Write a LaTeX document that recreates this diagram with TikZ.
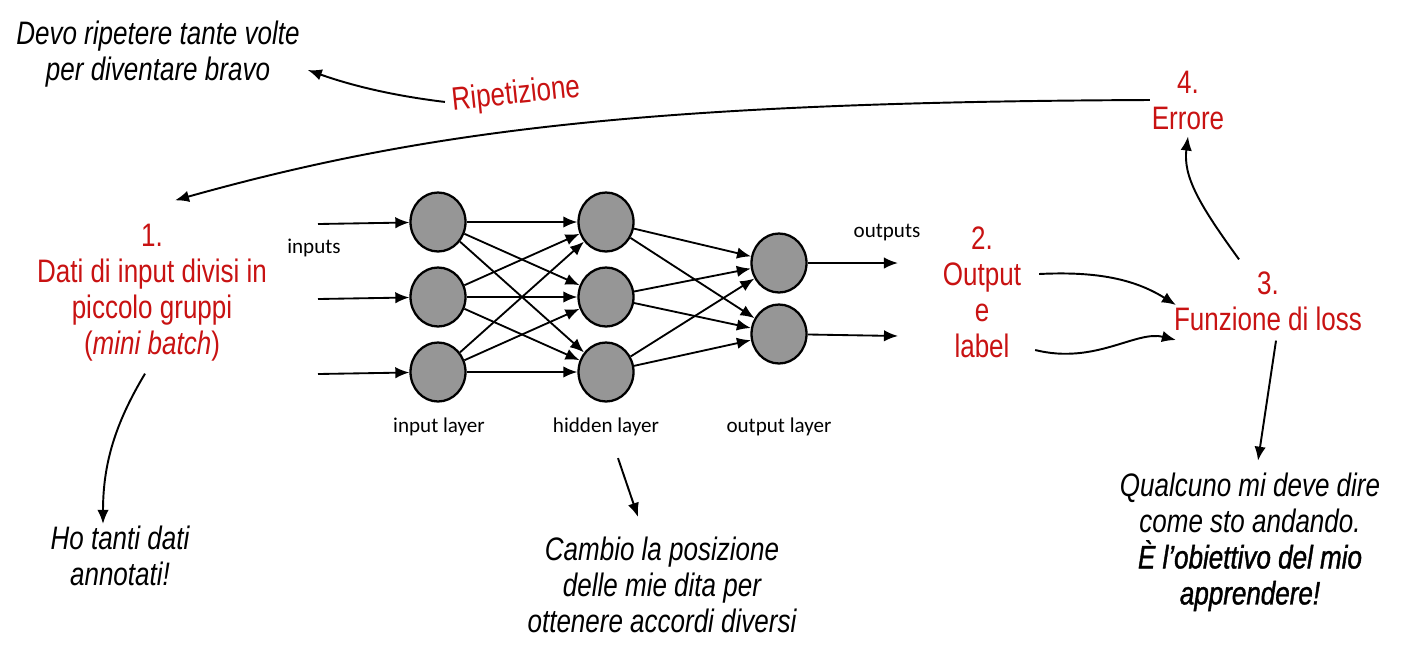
\documentclass[tikz,border=0pt]{standalone}
\usepackage{fontspec}
\setmainfont{Liberation Sans}[FakeStretch=0.8]
\newfontfamily\netfont{Carlito}
\newfontfamily\strongfont{Liberation Sans}[FakeStretch=0.8,FakeBold=1.2]
\usetikzlibrary{arrows.meta,shapes.geometric}
\definecolor{stepred}{RGB}{200,18,18}
\definecolor{cellgray}{RGB}{150,150,150}

\begin{document}
\begin{tikzpicture}[x=0.02cm,y=-0.02cm,
	neuron/.style={ellipse,draw,line width=1.3pt,fill=cellgray,minimum width=1.1cm,minimum height=1.18cm,inner sep=0pt},
	link/.style={line width=1.05pt,-{Latex[length=8pt,width=6.5pt]}},
	arr/.style={line width=1.1pt,-{Latex[length=8pt,width=6.5pt]}},
	stepnote/.style={text=stepred,align=center,inner sep=1pt,font=\fontsize{18.5}{20.5}\selectfont},
	note/.style={align=center,inner sep=1pt,font=\fontsize{18.5}{20.5}\selectfont\itshape},
	netlabel/.style={inner sep=1pt,font=\netfont\fontsize{12}{14}\selectfont}]
\useasboundingbox (0,0) rectangle (1422,647);
%
	\foreach \n/\y in {1/222,2/297,3/372} {
		\node[neuron] (i\n) at (438,\y) {};
		\node[neuron] (h\n) at (606,\y) {};
		\coordinate (x\n) at (318,\y+2);
		\draw[link] (x\n) -- (i\n);
	}
	\node[neuron] (o1) at (779,263) {};
	\node[neuron] (o2) at (779,334) {};
	\coordinate (y1) at (898,263);
	\coordinate (y2) at (898,336);
	\foreach \a in {1,2,3} {
		\foreach \b in {1,2,3} \draw[link] (i\a) -- (h\b);
		\foreach \b in {1,2} \draw[link] (h\a) -- (o\b);
	}
	\draw[link] (o1) -- (y1);
	\draw[link] (o2) -- (y2);
%
	\node[netlabel] at (314,248) {inputs};
	\node[netlabel] at (887,233) {outputs};
	\node[netlabel] (ilab) at (439,427) {input layer};
	\node[netlabel] (hlab) at (606,427) {hidden layer};
	\node[netlabel] (olab) at (779,427) {output layer};
%
	\node[stepnote] (dati) at (152,293) {1.\\Dati di input divisi in\\piccolo gruppi\\(\textit{mini batch})};
	\node[stepnote] (outlab) at (982,292) {2.\\Output\\e\\label};
	\node[stepnote] (loss) at (1268,301) {3.\\Funzione di loss};
	\node[stepnote] (err) at (1188,100) {4.\\Errore};
	\node[stepnote,rotate=6] (rip) at (516,95) {Ripetizione};
%
	\node[note] (devo) at (158,54) {Devo ripetere tante volte\\per diventare bravo};
	\node[note] (dati2) at (120,556) {Ho tanti dati\\annotati!};
	\node[note] (cambio) at (662,585) {Cambio la posizione\\delle mie dita per\\ottenere accordi diversi};
	\node[note] (qual) at (1250,542) {Qualcuno mi deve dire\\come sto andando.\\{\strongfont\itshape È l’obiettivo del mio}\\{\strongfont\itshape apprendere!}};
%
	\draw[arr] ([xshift=-0.1cm]rip.west) .. controls +(-50,-6) and +(45,16) .. ([shift={(6,16)}]devo.east);
	\draw[arr] (err.west) .. controls +(-500,2) and +(250,-70) .. ([shift={(23,-22)}]dati.north);
	\draw[arr] ([shift={(-7,10)}]dati.south) .. controls +(-30,50) and +(0,-60) .. ([xshift=-0.34cm]dati2.north);
	\draw[arr] ([shift={(12,20)}]hlab.south) -- ([shift={(-24,-18)}]cambio.north);
	\draw[arr] ([shift={(16,-18)}]outlab.east) .. controls +(60,-3) and +(-40,-25) .. ([shift={(4,4)}]loss.west);
	\draw[arr] ([shift={(12,58)}]outlab.east) .. controls +(60,15) and +(-40,-10) .. ([shift={(4,39)}]loss.west);
	\draw[arr] ([shift={(-29,-10)}]loss.north) .. controls +(-40,-55) and +(-5,40) .. ([yshift=-0.1cm]err.south);
	\draw[arr] ([shift={(8,8)}]loss.south) -- ([shift={(8,-10)}]qual.north);
\end{tikzpicture}
\end{document}
